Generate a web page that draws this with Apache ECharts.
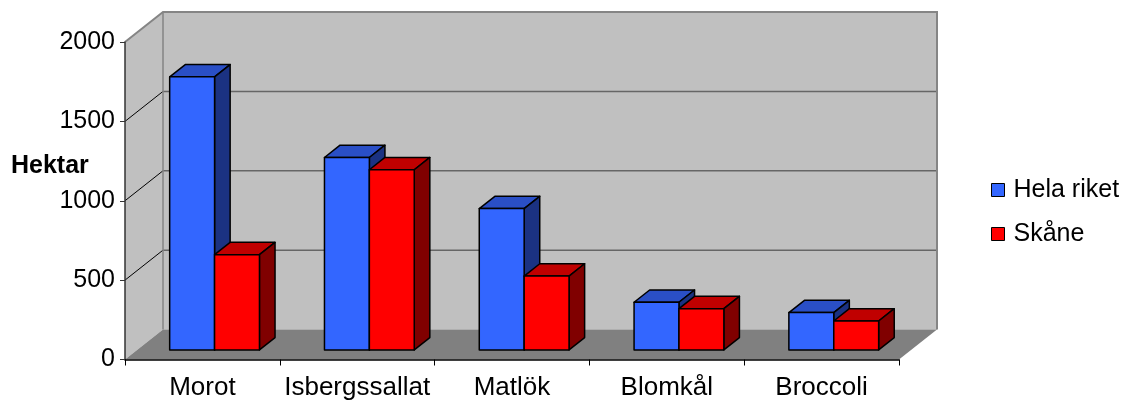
<!DOCTYPE html>
<html>
<head>
<meta charset="utf-8">
<title>Hektar per grönsak</title>
<script src="https://cdn.jsdelivr.net/npm/echarts@6/dist/echarts.min.js"></script>
<style>
  html, body { margin: 0; padding: 0; background: #fff; }
  #chart { width: 1136px; height: 403px; }
</style>
</head>
<body>
<div id="chart"></div>
<script>
// Odlad areal (hektar) per grönsak
const categories = ['Morot', 'Isbergssallat', 'Matlök', 'Blomkål', 'Broccoli'];
const helaRiket = [1720, 1212, 890, 300, 235];
const skane = [600, 1135, 465, 260, 182];
const yTicks = [0, 500, 1000, 1500, 2000];

const FONT = "'Liberation Sans', Arial, sans-serif";

// Oblique projection of the depth axis (pixels from front plane to back wall)
const DX = 38, DY = -30;
// Bars occupy this slice of the depth (0 = front plane, 1 = back wall)
const F0 = 0.32, F1 = 0.73;
const BAR_FRAC = 0.29;

const C = {
  wall: '#c0c0c0', floor: '#808080', wallEdge: '#858585', grid: '#666666',
  blue: { front: '#3366ff', top: '#2a4fc6', side: '#1b3282' },
  red: { front: '#ff0000', top: '#c00000', side: '#800000' }
};

const chart = echarts.init(document.getElementById('chart'), null, { renderer: 'canvas' });

function renderWalls(params, api) {
  const cs = params.coordSys;
  const xL = cs.x, xR = cs.x + cs.width;
  const y0 = api.coord([0, 0])[1];
  const yMax = api.coord([0, yTicks[yTicks.length - 1]])[1];
  const children = [];
  // back wall
  children.push({ type: 'polygon', shape: { points: [[xL + DX, yMax + DY], [xR + DX, yMax + DY], [xR + DX, y0 + DY], [xL + DX, y0 + DY]] },
    style: { fill: C.wall } });
  // left side wall
  children.push({ type: 'polygon', shape: { points: [[xL, yMax], [xL + DX, yMax + DY], [xL + DX, y0 + DY], [xL, y0]] },
    style: { fill: C.wall } });
  // gridlines on back wall and side wall
  yTicks.slice(1, -1).forEach(function (v) {
    const y = api.coord([0, v])[1];
    children.push({ type: 'line', shape: { x1: xL + DX, y1: y + DY, x2: xR + DX, y2: y + DY },
      style: { stroke: C.grid, lineWidth: 1.5 } });
    children.push({ type: 'line', shape: { x1: xL, y1: y, x2: xL + DX, y2: y + DY },
      style: { stroke: '#000', lineWidth: 1 } });
  });
  // wall edges
  children.push({ type: 'polyline', shape: { points: [[xL, yMax], [xL + DX, yMax + DY], [xR + DX, yMax + DY], [xR + DX, y0 + DY]] },
    style: { stroke: C.wallEdge, lineWidth: 2, fill: null } });
  children.push({ type: 'line', shape: { x1: xL + DX, y1: yMax + DY, x2: xL + DX, y2: y0 + DY },
    style: { stroke: C.wallEdge, lineWidth: 1.5 } });
  // floor
  children.push({ type: 'polygon', shape: { points: [[xL, y0], [xL + DX, y0 + DY], [xR + DX, y0 + DY], [xR, y0]] },
    style: { fill: C.floor } });
  return { type: 'group', children: children };
}

function makeBarRenderer(side, pal) {
  return function (params, api) {
    const base = api.coord([api.value(0), 0]);
    const top = api.coord([api.value(0), api.value(1)]);
    const bw = api.size([1, 0])[0] * BAR_FRAC;
    const sx = F0 * DX, sy = F0 * DY;
    const ddx = (F1 - F0) * DX, ddy = (F1 - F0) * DY;
    const L = (side < 0 ? base[0] - bw : base[0]) + sx;
    const R = L + bw;
    const T = top[1] + sy;
    const B = base[1] + sy;
    const stroke = { stroke: '#000', lineWidth: 1.5, lineJoin: 'round' };
    return {
      type: 'group',
      children: [
        { type: 'polygon', shape: { points: [[L, T], [R, T], [R + ddx, T + ddy], [L + ddx, T + ddy]] },
          style: Object.assign({ fill: pal.top }, stroke) },
        { type: 'polygon', shape: { points: [[R, T], [R + ddx, T + ddy], [R + ddx, B + ddy], [R, B]] },
          style: Object.assign({ fill: pal.side }, stroke) },
        { type: 'rect', shape: { x: L, y: T, width: bw, height: B - T },
          style: Object.assign({ fill: pal.front }, stroke) }
      ]
    };
  };
}

const option = {
  animation: false,
  textStyle: { fontFamily: FONT },
  grid: { left: 125, right: 237, top: 42, bottom: 43.5 },
  xAxis: {
    type: 'category',
    data: categories,
    z: 5,
    axisLine: { show: true, lineStyle: { color: '#000', width: 1.5 } },
    axisTick: { show: true, length: 6, lineStyle: { color: '#000', width: 1 } },
    axisLabel: { interval: 0, fontSize: 26, color: '#000', margin: 15, fontFamily: FONT },
    splitLine: { show: false }
  },
  yAxis: {
    type: 'value',
    min: 0, max: 2000, interval: 500,
    z: 5,
    axisLine: { show: true, lineStyle: { color: '#333', width: 1.5 } },
    axisTick: { show: true, length: 5, lineStyle: { color: '#333', width: 1 } },
    axisLabel: { fontSize: 25, color: '#000', margin: 10, fontFamily: FONT,
      formatter: function (v) { return String(v); } },
    splitLine: { show: false }
  },
  legend: {
    orient: 'vertical',
    left: 991, top: 177.5, padding: 0,
    itemWidth: 13, itemHeight: 13, itemGap: 19,
    textStyle: { fontSize: 25, color: '#000', fontFamily: FONT, padding: [0, 0, 0, 4] },
    data: [
      { name: 'Hela riket', icon: 'rect', itemStyle: { color: C.blue.front, borderColor: '#000', borderWidth: 1 } },
      { name: 'Skåne', icon: 'rect', itemStyle: { color: C.red.front, borderColor: '#000', borderWidth: 1 } }
    ]
  },
  graphic: [
    { type: 'text', left: 11, top: 154,
      style: { text: 'Hektar', font: 'bold 25px ' + FONT, fill: '#000' } }
  ],
  series: [
    { type: 'custom', name: 'walls', z: 1, silent: true,
      renderItem: renderWalls, data: [[0, 0]], encode: { x: 0, y: 1 } },
    { type: 'custom', name: 'Hela riket', z: 3,
      itemStyle: { color: C.blue.front },
      renderItem: makeBarRenderer(-1, C.blue),
      data: helaRiket.map(function (v, i) { return [i, v]; }),
      encode: { x: 0, y: 1 } },
    { type: 'custom', name: 'Skåne', z: 4,
      itemStyle: { color: C.red.front },
      renderItem: makeBarRenderer(1, C.red),
      data: skane.map(function (v, i) { return [i, v]; }),
      encode: { x: 0, y: 1 } }
  ]
};

chart.setOption(option);
</script>
</body>
</html>
